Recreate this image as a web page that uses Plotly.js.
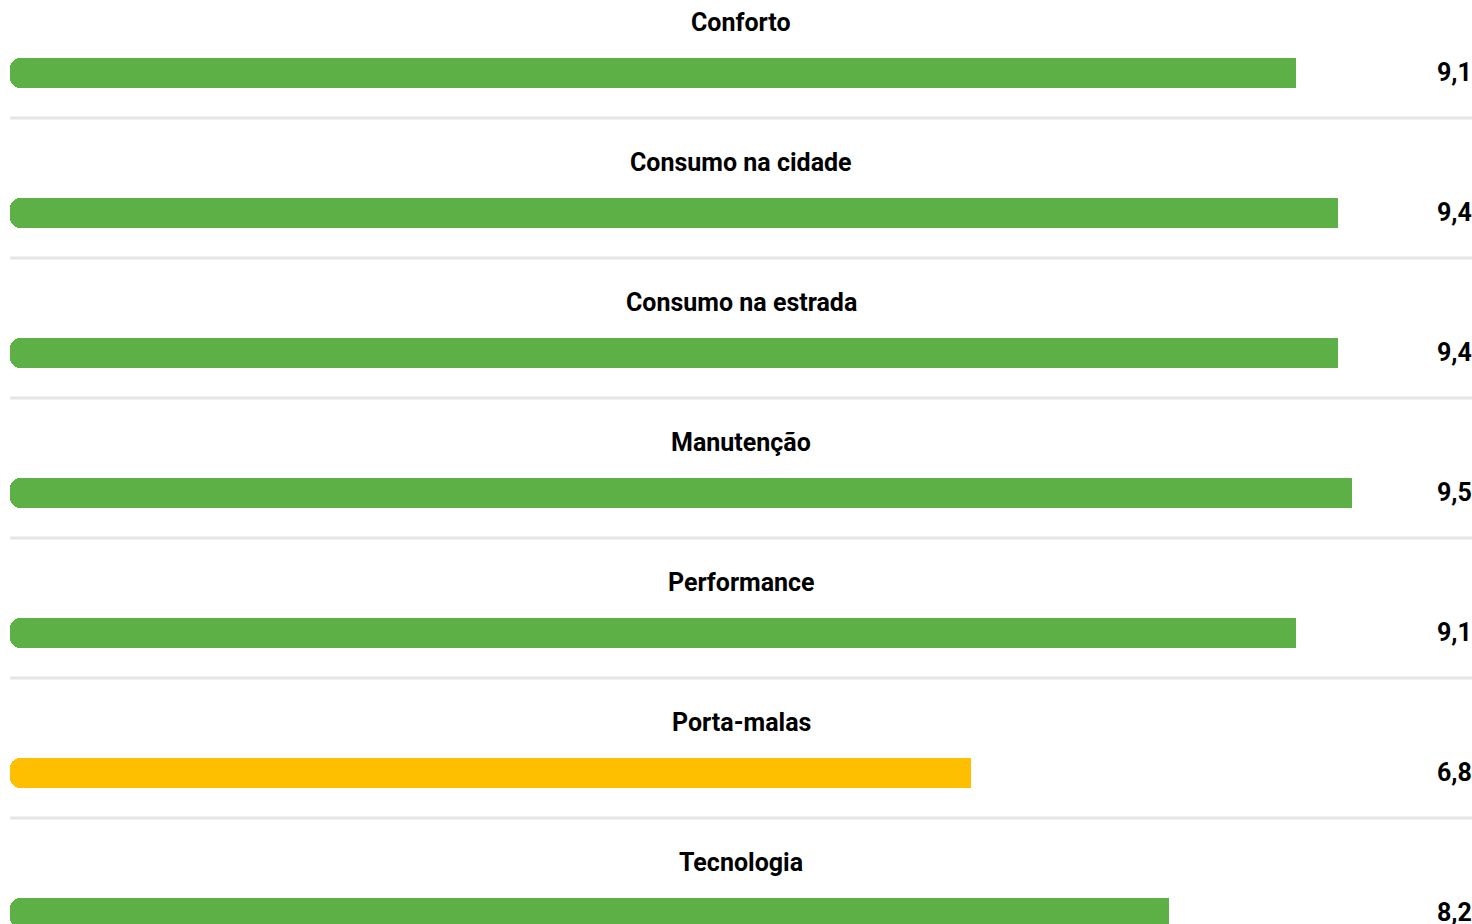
<!DOCTYPE html>
<html>
<head>
<meta charset="utf-8">
<script src="https://cdn.plot.ly/plotly-3.0.1.min.js"></script>
<style>html,body{margin:0;padding:0;background:#fff;}#chart{width:1472px;height:924px;}</style>
</head>
<body>
<div id="chart"></div>
<script>
const categories = ["Conforto", "Consumo na cidade", "Consumo na estrada", "Manutenção", "Performance", "Porta-malas", "Tecnologia"];
const scores = [9.1, 9.4, 9.4, 9.5, 9.1, 6.8, 8.2];
const labels = ["9,1", "9,4", "9,4", "9,5", "9,1", "6,8", "8,2"];
const barColors = ["#5cb046", "#5cb046", "#5cb046", "#5cb046", "#5cb046", "#fdbf00", "#5cb046"];

const idx = categories.map((c, i) => i);
const FONT = "Roboto, 'Noto Sans', sans-serif";

// full bar, explicit base so both ends get rounded
const traceRound = {
  type: "bar",
  orientation: "h",
  y: idx,
  base: scores.map(() => 0),
  x: scores,
  width: 30 / 140,
  marker: { color: barColors, cornerradius: 10, line: { width: 0 } },
  hoverinfo: "skip",
  showlegend: false,
  xaxis: "x", yaxis: "y"
};
// square right half drawn on an overlaying axis so only the left end stays rounded
const traceSquare = {
  type: "bar",
  orientation: "h",
  y: idx,
  base: scores.map(v => v / 2),
  x: scores.map(v => v / 2),
  width: 30 / 140,
  marker: { color: barColors, line: { width: 0 } },
  hoverinfo: "skip",
  showlegend: false,
  xaxis: "x", yaxis: "y2"
};

const annotations = [];
const shapes = [];
idx.forEach(i => {
  annotations.push({
    text: "<b>" + categories[i] + "</b>", xref: "paper", yref: "y",
    x: 741 / 1472, y: i - 51 / 140, xanchor: "center", yanchor: "middle",
    showarrow: false, font: { family: FONT, size: 25, color: "#000" }
  });
  annotations.push({
    text: "<b>" + labels[i] + "</b>", xref: "paper", yref: "y",
    x: 1 + 2 / 1472, y: i - 1 / 140, xanchor: "right", yanchor: "middle",
    showarrow: false, font: { family: FONT, size: 25, color: "#000" }
  });
  shapes.push({
    type: "line", xref: "paper", yref: "y",
    x0: 10 / 1472, x1: 1, y0: i + 45 / 140, y1: i + 45 / 140,
    line: { color: "#e6e6ea", width: 3 }
  });
});

const yRange = [(924 - 73) / 140, -73 / 140];
const layout = {
  width: 1472, height: 924,
  margin: { l: 0, r: 0, t: 0, b: 0 },
  paper_bgcolor: "#fff", plot_bgcolor: "#fff",
  xaxis: { range: [-10 / 141.3, 1462 / 141.3], visible: false, fixedrange: true },
  yaxis: { range: yRange, visible: false, fixedrange: true },
  yaxis2: { range: yRange, visible: false, fixedrange: true, overlaying: "y" },
  annotations: annotations,
  shapes: shapes,
  bargap: 0
};

Plotly.newPlot("chart", [traceRound, traceSquare], layout, { displayModeBar: false, staticPlot: true });
</script>
</body>
</html>
